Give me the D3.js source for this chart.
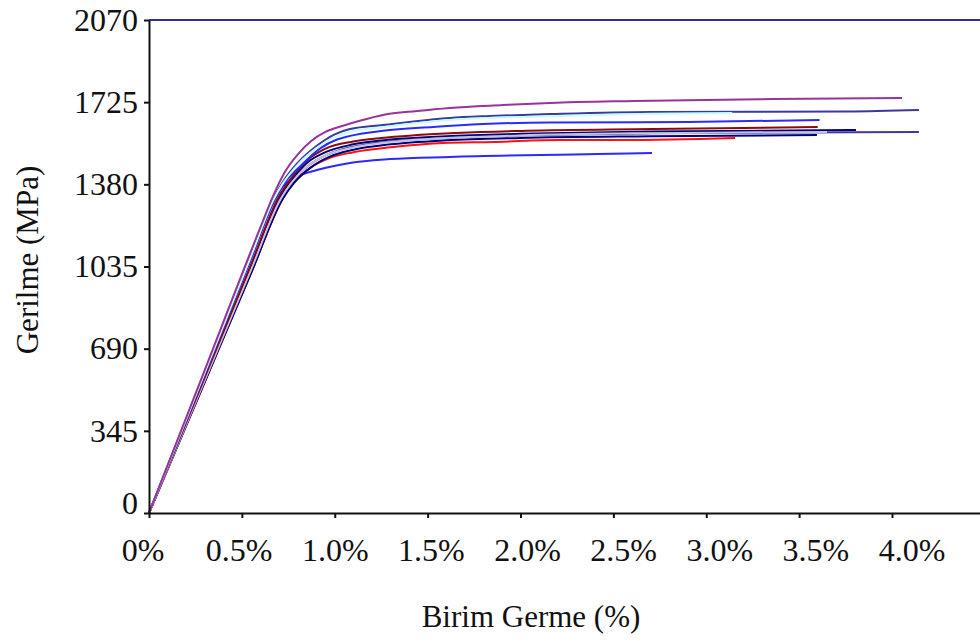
<!DOCTYPE html>
<html>
<head>
<meta charset="utf-8">
<script src="https://cdn.jsdelivr.net/npm/d3@7"></script>
<style>
  body { margin: 0; background: #fff; }
  svg { display: block; font-family: "Liberation Serif", "Times New Roman", serif; }
</style>
</head>
<body>
<svg width="980" height="641"></svg>
<script>
// tick values
var xTicks = [0, 0.5, 1.0, 1.5, 2.0, 2.5, 3.0, 3.5, 4.0];
var xTickLabels = ["0%", "0.5%", "1.0%", "1.5%", "2.0%", "2.5%", "3.0%", "3.5%", "4.0%"];
var yTicks = [0, 345, 690, 1035, 1380, 1725, 2070];

// strain (%) / stress (MPa) for each specimen
var purpleStrain = [0, 0.3, 0.6, 0.67, 0.73, 0.8, 0.87, 0.95, 1.04, 1.14, 1.26, 1.443, 1.62, 1.906, 2.16, 2.61, 3.354, 4.054];
var purpleStress = [0, 600, 1200, 1335, 1430, 1505, 1560, 1600, 1625, 1648, 1671, 1688, 1701, 1713, 1722, 1730, 1738, 1743];

var navyAStrain = [0, 0.3, 0.55, 0.67, 0.72, 0.80, 0.90, 1.0, 1.082, 1.26, 1.62, 1.836, 2.16, 2.70, 3.76, 4.145];
var navyAStress = [0, 591, 1084, 1320, 1390, 1470, 1540, 1590, 1612, 1629, 1659, 1667, 1675, 1684, 1686, 1692];

var cyanStrain = [0, 0.3, 0.55, 0.67, 0.72, 0.80, 0.90, 1.0, 1.082, 1.26, 1.62, 2.16, 2.70, 3.14];
var cyanStress = [0, 589, 1080, 1315, 1383, 1462, 1531, 1578, 1600, 1620, 1650, 1666, 1676, 1679];

var blueAStrain = [0, 0.3, 0.55, 0.68, 0.74, 0.82, 0.92, 1.012, 1.26, 1.529, 1.798, 2.16, 2.9, 3.61];
var blueAStress = [0, 582, 1068, 1320, 1395, 1460, 1530, 1568, 1605, 1621, 1633, 1640, 1642, 1650];

var maroonStrain = [0, 0.3, 0.55, 0.70, 0.76, 0.85, 0.95, 1.1, 1.25, 1.443, 2.035, 2.708, 3.60];
var maroonStress = [0, 570, 1045, 1330, 1400, 1480, 1530, 1560, 1575, 1587, 1605, 1612, 1621];

var navyBStrain = [0, 0.3, 0.55, 0.70, 0.76, 0.85, 0.95, 1.1, 1.3, 1.6, 2.0, 2.7, 3.806];
var navyBStress = [0, 566, 1037, 1320, 1390, 1470, 1515, 1548, 1568, 1582, 1592, 1602, 1608];

var navyCStrain = [0, 0.3, 0.55, 0.71, 0.77, 0.86, 0.96, 1.1, 1.3, 1.6, 2.0, 2.7, 3.5, 4.145];
var navyCStress = [0, 558, 1023, 1320, 1390, 1460, 1505, 1538, 1560, 1575, 1585, 1594, 1598, 1600];

var grayStrain = [0, 0.3, 0.55, 0.71, 0.77, 0.86, 0.96, 1.1, 1.4, 2.0, 2.7, 3.65];
var grayStress = [0, 558, 1023, 1320, 1390, 1460, 1505, 1535, 1565, 1585, 1595, 1600];

var navyDStrain = [0, 0.3, 0.55, 0.72, 0.78, 0.87, 0.97, 1.1, 1.3, 1.6, 2.0, 2.7, 3.596];
var navyDStress = [0, 550, 1008, 1320, 1385, 1450, 1495, 1525, 1548, 1565, 1575, 1582, 1587];

var redStrain = [0, 0.3, 0.55, 0.72, 0.78, 0.87, 0.97, 1.1, 1.314, 1.583, 1.852, 2.213, 2.55, 3.155];
var redStress = [0, 550, 1008, 1320, 1390, 1450, 1490, 1515, 1537, 1554, 1558, 1566, 1566, 1575];

var blueBStrain = [0, 0.3, 0.55, 0.66, 0.72, 0.78, 0.904, 1.082, 1.297, 1.62, 2.412, 2.708];
var blueBStress = [0, 586, 1075, 1290, 1370, 1405, 1440, 1470, 1486, 1495, 1507, 1512];

var curves = [
  { x: blueBStrain, y: blueBStress, color: "#2a2aff" },
  { x: redStrain, y: redStress, color: "#ff1010" },
  { x: navyDStrain, y: navyDStress, color: "#000080" },
  { x: navyCStrain, y: navyCStress, color: "#3a3a9c" },
  { x: navyBStrain, y: navyBStress, color: "#000080" },
  { x: grayStrain, y: grayStress, color: "#c4c4d4" },
  { x: maroonStrain, y: maroonStress, color: "#8b0a0a" },
  { x: blueAStrain, y: blueAStress, color: "#2a2aff" },
  { x: navyAStrain, y: navyAStress, color: "#3a3a9c" },
  { x: cyanStrain, y: cyanStress, color: "#c8fcfc" },
  { x: purpleStrain, y: purpleStress, color: "#993399" }
];

var svg = d3.select("svg");

var x = d3.scaleLinear().domain([0, 4.5]).range([149, 149 + 4.5 * 185.75]);
var xLab = d3.scaleLinear().domain([0, 4]).range([143, 912]);
var y = d3.scaleLinear().domain([0, 2070]).range([513, 20]);

var line = d3.line()
  .x(function(d) { return x(d[0]); })
  .y(function(d) { return y(d[1]); })
  .curve(d3.curveMonotoneX);

svg.append("g").selectAll("path")
  .data(curves)
  .enter().append("path")
  .attr("d", function(c) { return line(c.x.map(function(v, i) { return [v, c.y[i]]; })); })
  .attr("fill", "none")
  .attr("stroke", function(c) { return c.color; })
  .attr("stroke-width", 2);

// top frame line
svg.append("line")
  .attr("x1", x(0)).attr("x2", 980)
  .attr("y1", y(2070)).attr("y2", y(2070))
  .attr("stroke", "#2e2e96")
  .attr("stroke-width", 2);

var yAxis = svg.append("g")
  .attr("transform", "translate(" + x(0) + ",0)")
  .call(d3.axisLeft(y).tickValues(yTicks).tickFormat(d3.format("d"))
    .tickSize(5).tickSizeOuter(0).tickPadding(6));

var xAxis = svg.append("g")
  .attr("transform", "translate(0," + y(0) + ")")
  .call(d3.axisBottom(x).tickValues(xTicks).tickSize(5).tickSizeOuter(0).tickFormat(""));

[yAxis, xAxis].forEach(function(a) {
  a.select(".domain").attr("stroke", "#111").attr("stroke-width", 2);
  a.selectAll(".tick line").attr("stroke", "#111").attr("stroke-width", 2);
});
yAxis.selectAll(".tick text")
  .attr("font-family", "Liberation Serif")
  .attr("font-size", 32)
  .attr("fill", "#111");
// the zero label sits a bit higher than its tick in the original
yAxis.selectAll(".tick text").filter(function(d) { return d === 0; })
  .attr("dy", "0.0em");

svg.append("g").selectAll("text")
  .data(xTicks)
  .enter().append("text")
  .attr("x", function(d) { return xLab(d); })
  .attr("y", 561)
  .attr("text-anchor", "middle")
  .attr("font-size", 32)
  .attr("fill", "#111")
  .text(function(d, i) { return xTickLabels[i]; });

svg.append("text")
  .attr("x", 531)
  .attr("y", 627)
  .attr("text-anchor", "middle")
  .attr("font-size", 31)
  .attr("fill", "#111")
  .text("Birim Germe (%)");

svg.append("text")
  .attr("transform", "translate(38,260) rotate(-90)")
  .attr("text-anchor", "middle")
  .attr("font-size", 31)
  .attr("fill", "#111")
  .text("Gerilme (MPa)");
</script>
</body>
</html>
